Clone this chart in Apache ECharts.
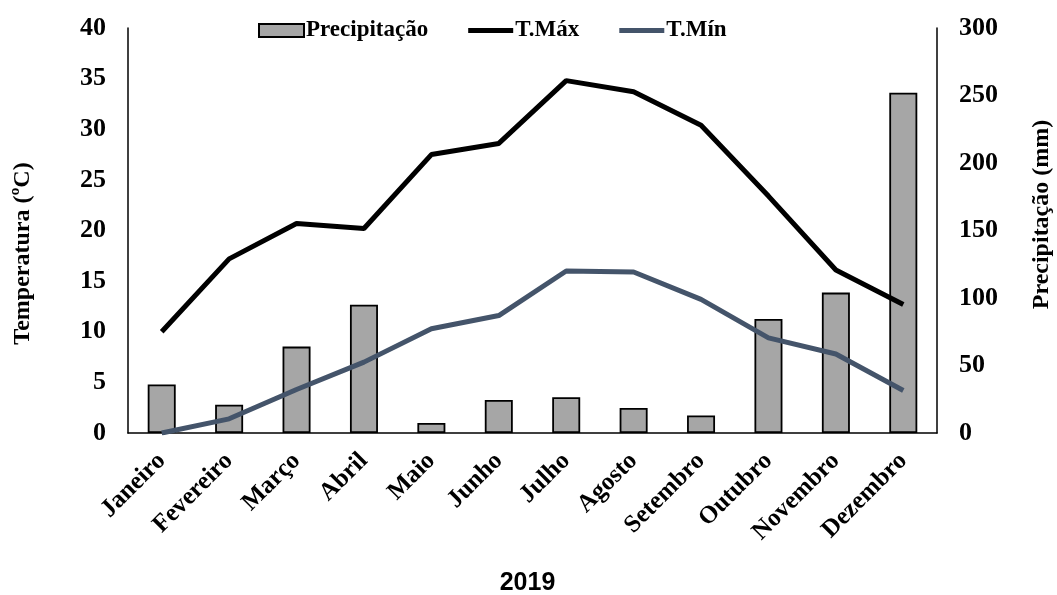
<!DOCTYPE html>
<html>
<head>
<meta charset="utf-8">
<script src="https://cdn.jsdelivr.net/npm/echarts@6/dist/echarts.min.js"></script>
<style>
html, body { margin: 0; padding: 0; background: #fff; }
#container { width: 1057px; height: 595px; }
</style>
</head>
<body>
<div id="container"></div>
<script>
// meses de 2019
var meses = ['Janeiro', 'Fevereiro', 'Março', 'Abril', 'Maio', 'Junho', 'Julho', 'Agosto', 'Setembro', 'Outubro', 'Novembro', 'Dezembro'];
// precipitação mensal (mm)
var precipitacao = [36, 21, 64, 95, 7.5, 24.5, 26.5, 18.5, 13, 84.5, 104, 252];
// temperatura máxima e mínima (ºC)
var tMax = [10.0, 17.2, 20.7, 20.2, 27.5, 28.6, 34.8, 33.7, 30.4, 23.4, 16.1, 12.7];
var tMin = [0.0, 1.4, 4.3, 7.0, 10.3, 11.6, 16.0, 15.9, 13.2, 9.4, 7.8, 4.2];

var serif = "'Times New Roman', 'Liberation Serif', serif";
var iconeLinha = 'path://M0,0L45,0L45,5L0,5Z';

var dom = document.getElementById("container");
var myChart = echarts.init(dom, null, {renderer: 'canvas'});

var option = {
    animation: false,
    backgroundColor: '#fff',
    textStyle: { fontFamily: serif },
    legend: {
        top: 14,
        left: 253,
        itemWidth: 45,
        itemHeight: 13,
        itemGap: 40,
        textStyle: { fontFamily: serif, fontWeight: 'bold', fontSize: 23, color: '#000', padding: [0, 0, 0, -3] },
        data: [
            { name: 'Precipitação', icon: 'rect' },
            { name: 'T.Máx', icon: iconeLinha },
            { name: 'T.Mín', icon: iconeLinha }
        ]
    },
    grid: {
        left: 128,
        right: 120,
        top: 28,
        bottom: 162,
        containLabel: false,
        outerBoundsMode: 'none'
    },
    xAxis: {
        type: 'category',
        data: meses,
        name: '2019',
        nameLocation: 'middle',
        nameGap: 138,
        nameTextStyle: { fontFamily: "Arial, 'Liberation Sans', sans-serif", fontWeight: 'bold', fontSize: 25, color: '#000', padding: [0, 10, 0, 0] },
        axisLine: { lineStyle: { color: '#000', width: 1.5 } },
        axisTick: { show: false },
        axisLabel: {
            rotate: 45,
            interval: 0,
            margin: 24,
            fontFamily: serif,
            fontWeight: 'bold',
            fontSize: 25,
            color: '#000'
        }
    },
    yAxis: [
        {
            type: 'value',
            min: 0,
            max: 40,
            interval: 5,
            name: 'Temperatura (ºC)',
            nameLocation: 'middle',
            nameRotate: 90,
            nameGap: 93,
            nameTextStyle: { fontFamily: serif, fontWeight: 'bold', fontSize: 24, color: '#000', padding: [0, 46, 0, 0] },
            axisLine: { show: true, lineStyle: { color: '#000', width: 1.5 } },
            axisTick: { show: false },
            splitLine: { show: false },
            axisLabel: { margin: 22, fontFamily: serif, fontWeight: 'bold', fontSize: 26, color: '#000' }
        },
        {
            type: 'value',
            min: 0,
            max: 300,
            interval: 50,
            position: 'right',
            name: 'Precipitação (mm)',
            nameLocation: 'middle',
            nameRotate: 90,
            nameGap: 93,
            nameTextStyle: { fontFamily: serif, fontWeight: 'bold', fontSize: 24, color: '#000', padding: [0, 0, 0, 32] },
            axisLine: { show: true, lineStyle: { color: '#000', width: 1.5 } },
            axisTick: { show: false },
            splitLine: { show: false },
            axisLabel: { margin: 22, fontFamily: serif, fontWeight: 'bold', fontSize: 26, color: '#000' }
        }
    ],
    series: [
        {
            name: 'Precipitação',
            type: 'bar',
            yAxisIndex: 1,
            data: precipitacao,
            barWidth: 28,
            itemStyle: { color: '#a6a6a6', borderColor: '#000', borderWidth: 1.8 }
        },
        {
            name: 'T.Máx',
            type: 'line',
            yAxisIndex: 0,
            data: tMax,
            symbol: 'none',
            color: '#000',
            lineStyle: { color: '#000', width: 5 }
        },
        {
            name: 'T.Mín',
            type: 'line',
            yAxisIndex: 0,
            data: tMin,
            symbol: 'none',
            color: '#44546a',
            lineStyle: { color: '#44546a', width: 5 }
        }
    ]
};

if (option && typeof option === "object") {
    myChart.setOption(option, true);
}
</script>
</body>
</html>
